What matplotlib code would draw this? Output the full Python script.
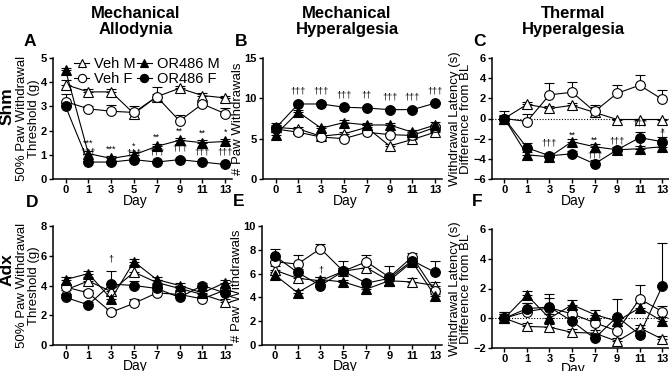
import numpy as np
import matplotlib
matplotlib.use("Agg")
import matplotlib.pyplot as plt

plt.rcParams['font.family'] = ['Liberation Sans', 'DejaVu Sans']

# ---------------- data ----------------
days = ["0", "1", "3", "5", "7", "9", "11", "13"]
groups = ["Veh M", "Veh F", "OR486 M", "OR486 F"]

# A: Shm, mechanical allodynia
a_veh_m = [3.9, 3.6, 3.6, 2.7, 3.4, 3.75, 3.45, 3.35]
a_veh_f = [3.2, 2.9, 2.8, 2.75, 3.4, 2.4, 3.1, 2.7]
a_or_m = [4.5, 1.05, 0.85, 1.0, 1.35, 1.6, 1.5, 1.55]
a_or_f = [3.0, 0.7, 0.7, 0.8, 0.7, 0.8, 0.7, 0.6]
a_veh_m_err = [0.2, 0.1, 0.1, 0.1, 0.4, 0.1, 0.1, 0.1]
a_veh_f_err = [0.3, 0.1, 0.25, 0.25, 0.1, 0.25, 0.1, 0.25]
a_or_m_err = [0.1, 0.1, 0.1, 0.1, 0.1, 0.1, 0.1, 0.1]
a_or_f_err = [0.05, 0.05, 0.05, 0.05, 0.05, 0.05, 0.05, 0.05]

# B: Shm, mechanical hyperalgesia
b_veh_m = [6.4, 6.2, 5.3, 5.6, 6.4, 4.1, 4.9, 5.8]
b_veh_f = [6.2, 5.8, 5.2, 5.0, 5.8, 5.5, 5.4, 6.4]
b_or_m = [5.5, 8.3, 6.3, 7.0, 6.7, 6.7, 5.8, 6.7]
b_or_f = [6.3, 9.3, 9.3, 8.9, 8.8, 8.6, 8.6, 9.4]
b_veh_m_err = [0.3, 0.2, 0.2, 0.2, 0.3, 0.2, 0.2, 0.2]
b_veh_f_err = [0.4, 0.2, 0.2, 0.2, 0.2, 0.2, 0.2, 0.2]
b_or_m_err = [0.3, 0.3, 0.3, 0.3, 0.3, 0.3, 0.3, 0.4]
b_or_f_err = [0.7, 0.2, 0.2, 0.2, 0.2, 0.2, 0.2, 0.2]

# C: Shm, thermal hyperalgesia
c_veh_m = [0.0, 1.4, 1.0, 1.3, 0.6, -0.1, -0.1, -0.1]
c_veh_f = [0.0, -0.3, 2.35, 2.6, 0.7, 2.5, 3.3, 1.9]
c_or_m = [0.0, -3.6, -3.8, -2.3, -2.8, -3.1, -3.0, -2.8]
c_or_f = [0.0, -2.9, -3.7, -3.5, -4.5, -3.1, -1.9, -2.3]
c_veh_m_err = [0.3, 0.2, 0.2, 0.2, 0.5, 0.1, 0.1, 0.1]
c_veh_f_err = [0.7, 0.7, 1.15, 1.0, 0.6, 0.8, 1.0, 0.9]
c_or_m_err = [0.2, 0.3, 0.3, 0.3, 0.3, 0.3, 0.3, 0.3]
c_or_f_err = [0.2, 0.5, 0.3, 0.3, 0.4, 0.3, 0.6, 0.5]

# D: Adx, mechanical allodynia
d_veh_m = [3.7, 4.3, 3.6, 4.9, 4.2, 3.8, 3.4, 2.9]
d_veh_f = [3.9, 3.5, 2.2, 2.8, 3.5, 3.4, 3.1, 3.7]
d_or_m = [4.4, 4.8, 3.1, 5.6, 4.4, 4.0, 3.5, 4.2]
d_or_f = [3.2, 2.7, 4.1, 4.0, 3.8, 3.2, 4.0, 3.5]
d_veh_m_err = [0.2, 0.3, 0.3, 0.5, 0.2, 0.2, 0.2, 0.2]
d_veh_f_err = [0.2, 0.2, 0.2, 0.3, 0.2, 0.2, 0.2, 0.2]
d_or_m_err = [0.2, 0.2, 0.2, 0.2, 0.2, 0.2, 0.2, 0.2]
d_or_f_err = [0.2, 0.2, 0.9, 0.3, 0.2, 0.2, 0.2, 0.2]

# E: Adx, mechanical hyperalgesia
e_veh_m = [6.3, 5.6, 5.4, 6.2, 6.5, 5.4, 5.3, 5.0]
e_veh_f = [7.0, 6.8, 8.1, 6.2, 7.0, 5.7, 7.4, 4.5]
e_or_m = [5.9, 4.4, 5.5, 5.3, 4.7, 5.4, 7.0, 4.1]
e_or_f = [7.5, 6.1, 5.0, 6.2, 5.2, 5.6, 7.1, 6.1]
e_veh_m_err = [0.3, 0.3, 0.3, 0.3, 0.3, 0.3, 0.3, 0.3]
e_veh_f_err = [0.3, 0.8, 0.4, 0.9, 0.6, 0.9, 0.3, 0.3]
e_or_m_err = [0.2, 0.2, 0.2, 0.2, 0.2, 0.2, 0.2, 0.2]
e_or_f_err = [0.6, 0.3, 0.3, 0.3, 0.3, 0.3, 0.3, 1.0]

# F: Adx, thermal hyperalgesia
f_veh_m = [0.0, -0.55, -0.6, -0.95, -1.0, -1.55, -0.65, -1.4]
f_veh_f = [0.0, 0.45, 0.7, 0.3, -0.3, -0.85, 1.3, 0.45]
f_or_m = [0.0, 1.55, 0.0, 0.9, 0.25, -0.2, 0.7, -0.2]
f_or_f = [0.0, 0.65, 0.75, -0.2, -1.35, 0.1, -1.1, 2.15]
f_veh_m_err = [0.3, 0.2, 0.2, 0.2, 0.2, 0.2, 0.2, 0.2]
f_veh_f_err = [0.4, 0.6, 0.9, 0.3, 0.3, 0.3, 0.95, 0.4]
f_or_m_err = [0.3, 0.3, 0.3, 0.3, 0.3, 0.3, 0.3, 0.3]
f_or_f_err = [0.4, 0.4, 0.6, 0.3, 0.3, 1.2, 0.3, 2.9]

# significance marks: (day, y, text)
a_sig = [(1, 1.3, "***"), (3, 1.05, "***"), (5, 1.15, "*"), (7, 1.55, "**"),
         (9, 1.8, "**"), (11, 1.7, "**"), (13, 1.75, "*"),
         (1, 0.95, "†††"), (5, 0.9, "†††"), (7, 0.95, "†††"), (9, 1.1, "†††"),
         (11, 0.95, "†††"), (13, 0.95, "†††")]
b_sig = [(1, 10.3, "†††"), (3, 10.3, "†††"), (5, 9.9, "†††"), (7, 9.9, "††"),
         (9, 9.6, "†††"), (11, 9.6, "†††"), (13, 10.4, "†††")]
c_sig = [(3, -2.9, "†††"), (5, -2.1, "**"), (7, -2.6, "**"), (7, -4.1, "†††"),
         (9, -2.7, "†††"), (11, -0.9, "†††"), (13, -2.0, "†"), (13, -1.7, "*")]
d_sig = [(3, 5.5, "†")]
e_sig = [(3, 5.9, "†")]
f_sig = []

# ---------------- plotting ----------------
fig = plt.figure(figsize=(6.69, 3.71), dpi=100)

W, H = 669, 371
def box(l, r, t, b):
    return [l / W, 1 - b / H, (r - l) / W, (b - t) / H]

ax_a = fig.add_axes(box(53, 232, 58, 179))
ax_b = fig.add_axes(box(263, 442, 58, 179))
ax_c = fig.add_axes(box(492, 669, 58, 179))
ax_d = fig.add_axes(box(53, 232, 226, 345))
ax_e = fig.add_axes(box(262, 442, 226, 345))
ax_f = fig.add_axes(box(492, 669, 229, 348))

styles = [dict(marker="^", mfc="white"), dict(marker="o", mfc="white"),
          dict(marker="^", mfc="black"), dict(marker="o", mfc="black")]

x = np.arange(len(days))
day_pos = {int(d): i for i, d in enumerate(days)}


def draw(ax, series, errs, sig, ylim, yticks, ylabel, zero_line=False):
    handles = []
    for vals, err, st, name in zip(series, errs, styles, groups):
        ax.errorbar(x, vals, yerr=[np.zeros(len(err)), err], fmt="none",
                    ecolor="black", elinewidth=0.8, capsize=3.5, capthick=0.8, zorder=2)
        h, = ax.plot(x, vals, color="black", lw=0.8, marker=st["marker"],
                     mfc=st["mfc"], mec="black", mew=0.8, ms=7, zorder=3, label=name)
        handles.append(h)
    if zero_line:
        ax.axhline(0, color="black", lw=0.8, ls=(0, (1, 1.5)), zorder=1)
    for d, y, t in sig:
        ax.text(day_pos[d], y, t, ha="center", va="bottom", fontsize=6.5, zorder=4)
    ax.set_xlim(-0.55, 7.3)
    ax.set_ylim(*ylim)
    ax.set_yticks(yticks)
    ax.set_xticks(x)
    ax.set_xticklabels(days)
    for s in ["top", "right"]:
        ax.spines[s].set_visible(False)
    for s in ["left", "bottom"]:
        ax.spines[s].set_linewidth(1.1)
    ax.tick_params(width=1.0, length=3, labelsize=8, pad=1.5)
    for lab in ax.get_xticklabels() + ax.get_yticklabels():
        lab.set_fontweight("bold")
    ax.set_xlabel("Day", fontsize=10, labelpad=-0.5)
    ax.xaxis.set_label_coords(0.46, -0.12)
    ax.set_ylabel(ylabel, fontsize=9.5, labelpad=0.5, linespacing=0.95)
    return handles


h = draw(ax_a, [a_veh_m, a_veh_f, a_or_m, a_or_f],
         [a_veh_m_err, a_veh_f_err, a_or_m_err, a_or_f_err], a_sig,
         (0, 5), range(0, 6), "50% Paw Withdrawal\nThreshold (g)")
draw(ax_b, [b_veh_m, b_veh_f, b_or_m, b_or_f],
     [b_veh_m_err, b_veh_f_err, b_or_m_err, b_or_f_err], b_sig,
     (0, 15), [0, 5, 10, 15], "# Paw Withdrawals")
draw(ax_c, [c_veh_m, c_veh_f, c_or_m, c_or_f],
     [c_veh_m_err, c_veh_f_err, c_or_m_err, c_or_f_err], c_sig,
     (-6, 6), range(-6, 7, 2), "Withdrawal Latency (s)\nDifference from BL", zero_line=True)
draw(ax_d, [d_veh_m, d_veh_f, d_or_m, d_or_f],
     [d_veh_m_err, d_veh_f_err, d_or_m_err, d_or_f_err], d_sig,
     (0, 8), range(0, 9, 2), "50% Paw Withdrawal\nThreshold (g)")
draw(ax_e, [e_veh_m, e_veh_f, e_or_m, e_or_f],
     [e_veh_m_err, e_veh_f_err, e_or_m_err, e_or_f_err], e_sig,
     (0, 10), range(0, 11, 2), "# Paw Withdrawals")
draw(ax_f, [f_veh_m, f_veh_f, f_or_m, f_or_f],
     [f_veh_m_err, f_veh_f_err, f_or_m_err, f_or_f_err], f_sig,
     (-2, 6), range(-2, 7, 2), "Withdrawal Latency (s)\nDifference from BL", zero_line=True)

ax_a.legend(handles=h, ncol=2, loc="upper left", bbox_to_anchor=(0.07, 1.08),
            frameon=False, fontsize=10.5, handlelength=1.0, handletextpad=0.35,
            columnspacing=0.1, labelspacing=0.05, borderpad=0.1, markerscale=0.85)

# column titles
for xc, t in [(136, "Mechanical\nAllodynia"), (347, "Mechanical\nHyperalgesia"),
              (573, "Thermal\nHyperalgesia")]:
    fig.text(xc / W, 1 - 6 / H, t, ha="center", va="top", fontsize=12,
             fontweight="bold", linespacing=1.05)

# panel letters
for xl, yl, t in [(30, 41, "A"), (241, 41, "B"), (479, 42, "C"),
                  (32, 202, "D"), (239, 201, "E"), (477, 201, "F")]:
    fig.text(xl / W, 1 - yl / H, t, ha="center", va="center", fontsize=12.5,
             fontweight="bold")

# row labels
fig.text(7 / W, 1 - 106 / H, "Shm", rotation=90, ha="center", va="center",
         fontsize=12.5, fontweight="bold")
fig.text(7 / W, 1 - 270 / H, "Adx", rotation=90, ha="center", va="center",
         fontsize=12.5, fontweight="bold")

fig.savefig("out.png", dpi=100)
